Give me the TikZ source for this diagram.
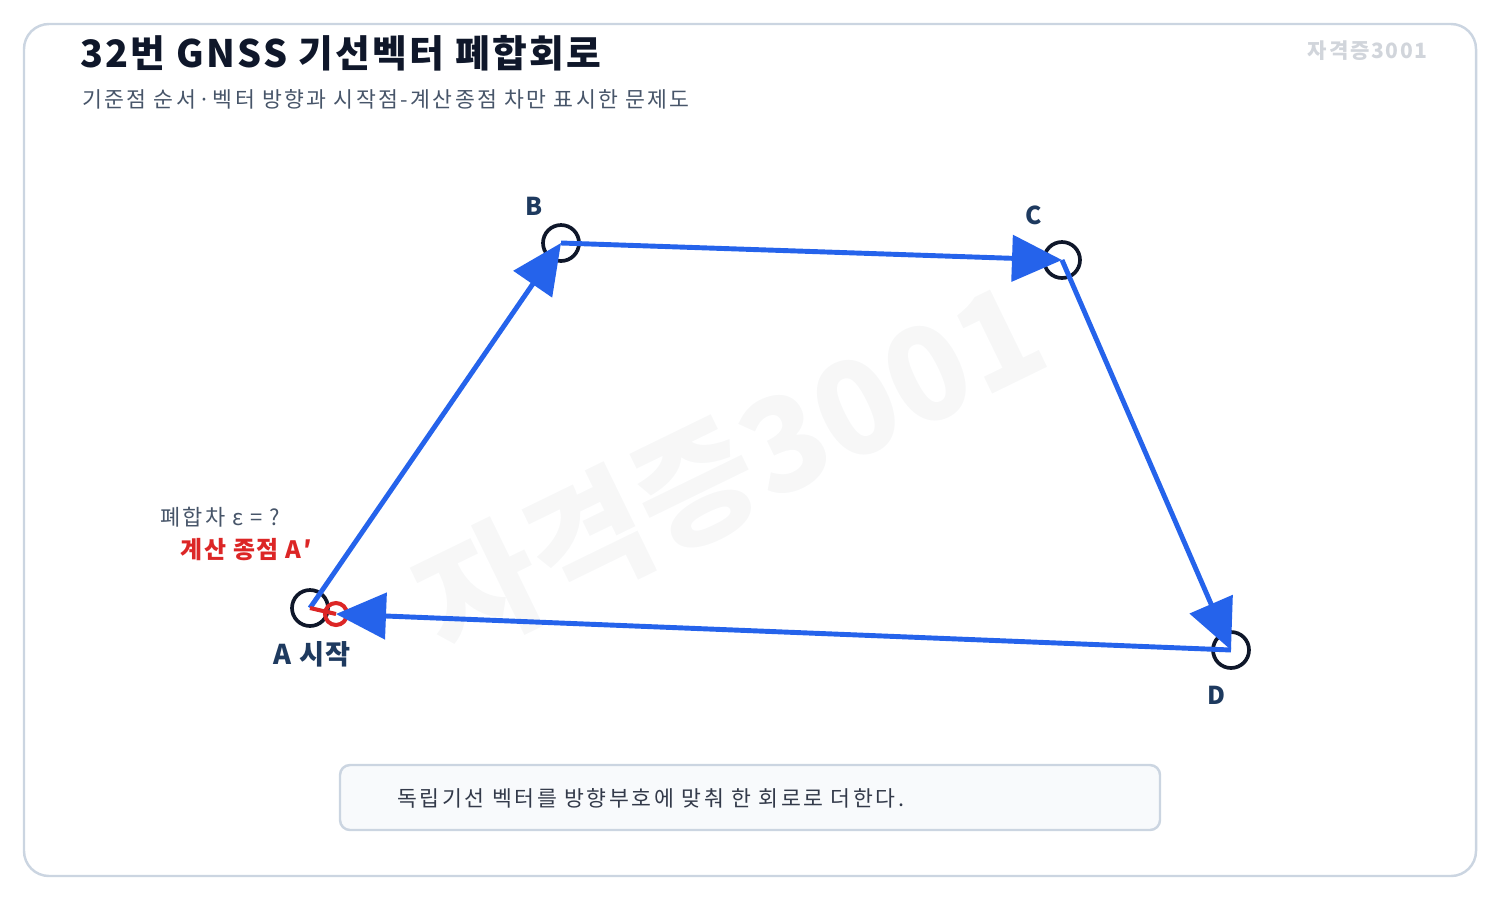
\documentclass[tikz,border=0pt]{standalone}
\usepackage{fontspec}
\setmainfont{Noto Sans CJK KR}
\usetikzlibrary{arrows.meta}
\definecolor{vblue}{HTML}{2563EB}
\definecolor{ink}{HTML}{0F172A}
\definecolor{lbl}{HTML}{1E3A5F}
\definecolor{errred}{HTML}{DC2626}
\definecolor{frame}{HTML}{CBD5E1}
\definecolor{subgray}{HTML}{475569}
\definecolor{wm}{HTML}{D1D5DB}
\definecolor{boxfill}{HTML}{F8FAFC}
\tikzset{
  pt/.style={circle, draw=ink, line width=2.1pt, minimum size=36*0.02cm, inner sep=0pt},
  vec/.style={draw=vblue, line width=2.8pt, -{Triangle[length=1.0cm, width=0.92cm]}},
  ptlabel/.style={font=\fontsize{14}{16}\selectfont\bfseries, text=lbl},
}
\begin{document}
\begin{tikzpicture}[x=0.02cm, y=-0.02cm]
\useasboundingbox (0,0) rectangle (1500,900);
% frame
\draw[frame, line width=1.4pt, rounded corners=0.5cm] (24,24) rectangle (1476,876);
% big watermark
\node[rotate=26, text=ink, opacity=0.035, font=\fontsize{74}{80}\selectfont\bfseries] (wmbig) at (730,468) {자격증3001};
% title
\node[anchor=west, text=ink, font=\fontsize{21.5}{24}\selectfont\bfseries\addfontfeatures{LetterSpace=6}, inner sep=0pt] (title) at (80,53) {32번 GNSS 기선벡터 폐합회로};
\node[anchor=west, text=subgray, font=\fontsize{12.3}{14}\selectfont\addfontfeatures{LetterSpace=11}, inner sep=0pt] (sub) at (82,99) {기준점 순서·벡터 방향과 시작점-계산종점 차만 표시한 문제도};
\node[anchor=east, text=wm, font=\fontsize{12}{13}\selectfont\bfseries\addfontfeatures{LetterSpace=8}, inner sep=0pt] (wmsmall) at (1428,51) {자격증3001};
% points
\coordinate (A) at (310,608);
\coordinate (Ap) at (336,614);
\coordinate (B) at (561,243);
\coordinate (C) at (1062,260);
\coordinate (D) at (1231,650);
\node[pt] (Ac) at (A) {};
\node[pt] (Bc) at (B) {};
\node[pt] (Cc) at (C) {};
\node[pt] (Dc) at (D) {};
\node[circle, draw=errred, line width=2.3pt, minimum size=22*0.02cm, inner sep=0pt] (Apc) at (Ap) {};
% vectors
\draw[vec] (A) -- (B);
\draw[vec] (B) -- (C);
\draw[vec] (C) -- (D);
\draw[vec] (D) -- (Ap);
\draw[errred, line width=2.3pt] (A) -- (Ap);
% labels
\node[ptlabel] (Bl) at (534,206) {B};
\node[ptlabel] (Cl) at (1034,215) {C};
\node[ptlabel] (Dl) at (1216,695) {D};
\node[font=\fontsize{15.5}{17}\selectfont\bfseries\addfontfeatures{LetterSpace=5}, text=lbl] (Al) at (312,654) {A 시작};
\node[anchor=west, text=subgray, font=\fontsize{12.5}{14}\selectfont\addfontfeatures{LetterSpace=10}, inner sep=0pt] (eps) at (160,517) {폐합차 ε = ?};
\node[anchor=west, text=errred, font=\fontsize{13.6}{15}\selectfont\bfseries\addfontfeatures{LetterSpace=7}, inner sep=0pt] (Apl) at (180,550) {계산 종점 A′};
% bottom box
\node[draw=frame, fill=boxfill, line width=1.4pt, rounded corners=0.2cm, minimum width=820*0.02cm, minimum height=65*0.02cm, inner sep=0pt] (box) at (750,797.5) {};
\node[anchor=west, text=ink!85, font=\fontsize{12.3}{14}\selectfont\addfontfeatures{LetterSpace=12}, inner sep=0pt] (boxt) at (397,798) {독립기선 벡터를 방향부호에 맞춰 한 회로로 더한다.};
\end{tikzpicture}
\end{document}
